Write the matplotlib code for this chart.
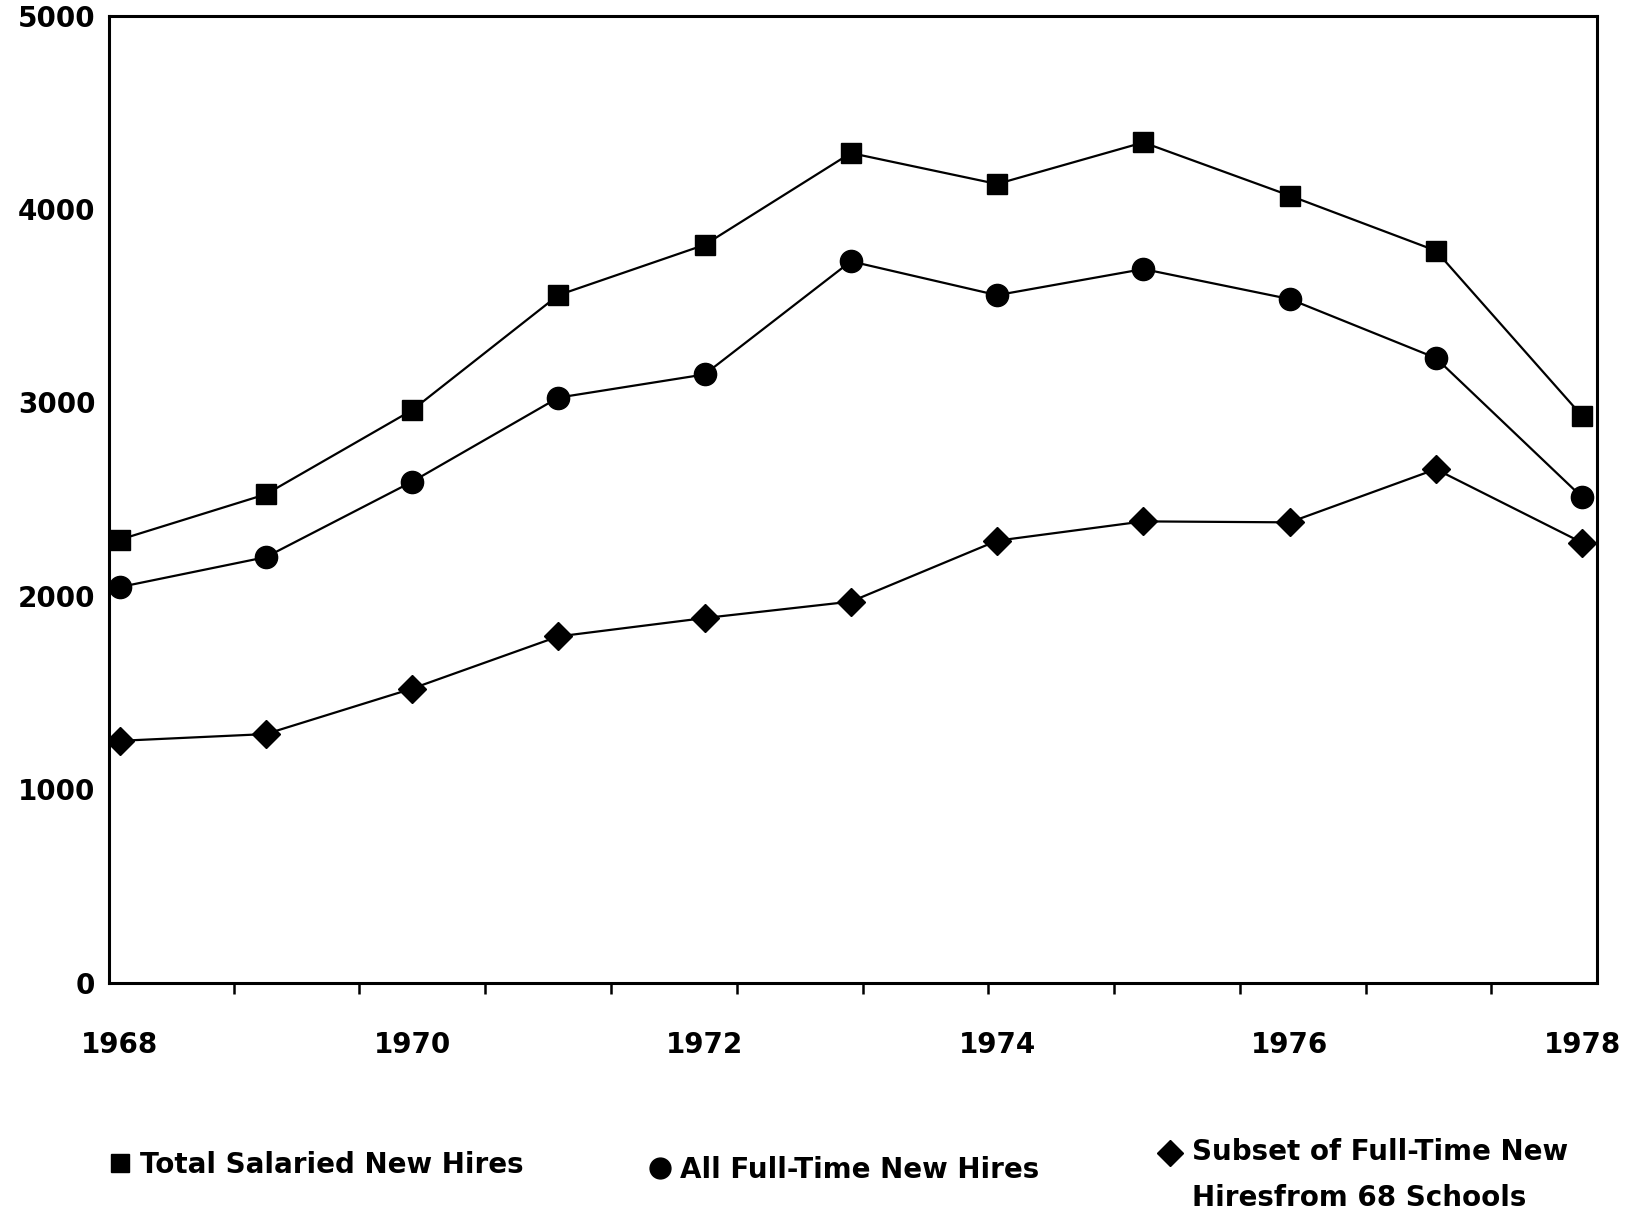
import matplotlib
matplotlib.use("Agg")
import matplotlib.pyplot as plt
from matplotlib.lines import Line2D

years = [1968, 1969, 1970, 1971, 1972, 1973, 1974, 1975, 1976, 1977, 1978]
total_salaried = [2290, 2525, 2960, 3555, 3815, 4290, 4130, 4345, 4070, 3785, 2930]
all_full_time = [2045, 2200, 2590, 3025, 3145, 3730, 3555, 3690, 3535, 3230, 2510]
subset_68 = [1250, 1285, 1520, 1790, 1885, 1970, 2285, 2385, 2380, 2655, 2275]

xtick_labels = ["1968", "1970", "1972", "1974", "1976", "1978"]
ytick_vals = [0, 1000, 2000, 3000, 4000, 5000]
legend_labels = ["Total Salaried New Hires", "All Full-Time New Hires",
                 "Subset of Full-Time New\nHiresfrom 68 Schools"]

plt.rcParams['font.family'] = ['DejaVu Sans']
plt.rcParams['font.weight'] = 'bold'

fig = plt.figure(figsize=(16.31, 12.13), dpi=100)
ax = fig.add_axes([0.067, 0.19, 0.912, 0.797])

ax.plot(years, total_salaried, color='black', lw=1.6, marker='s', markersize=15)
ax.plot(years, all_full_time, color='black', lw=1.6, marker='o', markersize=16)
ax.plot(years, subset_68, color='black', lw=1.6, marker='D', markersize=14)

ax.set_xlim(1967.93, 1978.1)
ax.set_ylim(0, 5000)

ax.set_xticks([int(l) for l in xtick_labels])
ax.set_xticklabels(xtick_labels, fontsize=20, fontweight='bold')
ax.tick_params(axis='x', which='major', length=0, pad=35)
ax.set_xticks([1968.78 + 0.86 * k for k in range(11)], minor=True)
ax.tick_params(axis='x', which='minor', length=8, width=1.8, direction='out')

ax.set_yticks(ytick_vals)
ax.set_yticklabels([str(v) for v in ytick_vals], fontsize=20, fontweight='bold')
ax.tick_params(axis='y', length=0, pad=10)

for s in ax.spines.values():
    s.set_linewidth(2.2)

# Legend drawn below the chart
W, H = 1631, 1213
def fx(px):
    return px / W
def fy(py):
    return 1 - py / H

items = [
    ('s', 120, 1163, 140, 1165, legend_labels[0], 13),
    ('o', 660, 1168, 680, 1170, legend_labels[1], 15),
    ('D', 1170, 1153, 1192, 1175, legend_labels[2], 13),
]
for mk, mx, my, tx, ty, lab, ms in items:
    fig.add_artist(Line2D([fx(mx)], [fy(my)], marker=mk, color='black',
                          markersize=ms, linestyle='none', transform=fig.transFigure))
    fig.text(fx(tx), fy(ty), lab, fontsize=20, fontweight='bold',
             va='center', ha='left', linespacing=1.8)

fig.savefig("out.png", dpi=100)
